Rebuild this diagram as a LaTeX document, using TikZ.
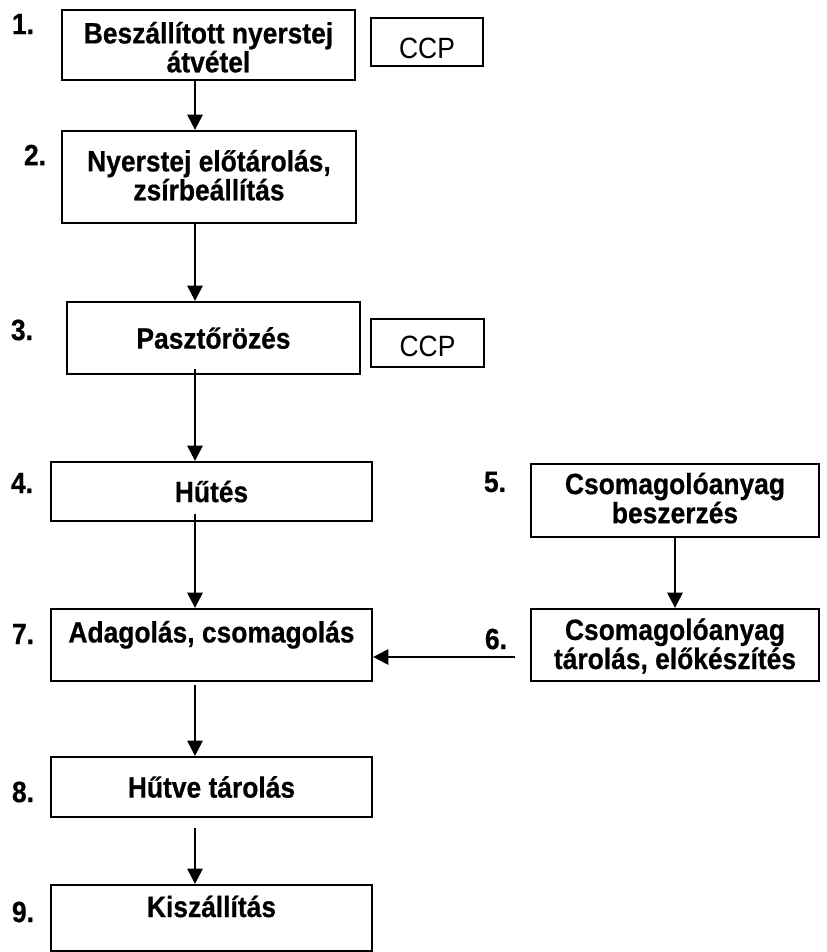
\documentclass[tikz,border=0pt]{standalone}
\usepackage{fontspec}
\setmainfont{Liberation Sans}
\newfontfamily\boxfont[FakeStretch=0.9, BoldFeatures={FakeBold=0.6}]{Liberation Sans}
\usepackage{tikz}
\usetikzlibrary{positioning,calc,arrows.meta}

\begin{document}
\begin{tikzpicture}[x=0.75pt,y=-0.75pt,
    stepbox/.style={draw, line width=1.7pt, inner sep=0pt, align=center, font=\boxfont\bfseries\fontsize{22}{19.5}\selectfont},
    ccpbox/.style={draw, line width=1.2pt, inner sep=0pt, minimum width=84pt, minimum height=36pt, font=\boxfont\fontsize{22}{19.5}\selectfont},
    num/.style={font=\boxfont\bfseries\fontsize{22}{19.5}\selectfont},
    arrow/.style={line width=1.7pt, -{Triangle[width=11.5pt,length=11.5pt]}}]
    \useasboundingbox (0,0) rectangle (827,952);

    % main flow
    \node[stepbox, minimum width=219.75pt, minimum height=52.5pt, text height=41pt, text depth=0pt] (atvetel) at (208.5,45) {Beszállított nyerstej\\átvétel};
    \node[ccpbox, text height=25pt] (ccpA) at (427,42) {CCP\hspace{13pt}};
    \node[stepbox, minimum width=220.5pt, minimum height=69pt, text height=35pt, text depth=0pt] (elotarolas) at (209,177) {Nyerstej előtárolás,\\zsírbeállítás};
    \node[stepbox, minimum width=219.75pt, minimum height=54pt] (paszt) at (213.5,338) {Pasztőrözés};
    \node[ccpbox, minimum width=84.75pt, text height=21pt] (ccpB) at (427.5,343) {CCP\hspace{13pt}};
    \node[stepbox, minimum width=240.75pt, minimum height=44.25pt] (hutes) at (211.5,491.5) {Hűtés};
    \node[stepbox, minimum width=240.75pt, minimum height=54pt, text height=16pt, text depth=19.8pt] (adagolas) at (211.5,645) {Adagolás, csomagolás};
    \node[stepbox, minimum width=240.75pt, minimum height=45pt] (hutvetar) at (211.5,787) {Hűtve tárolás};
    \node[stepbox, minimum width=240.75pt, minimum height=49.5pt, text height=16pt, text depth=17.5pt] (kiszall) at (211.5,918) {Kiszállítás};

    % packaging branch
    \node[stepbox, minimum width=216pt, minimum height=54.75pt, text height=34pt, text depth=0pt] (beszerzes) at (675,500.5) {Csomagolóanyag\\beszerzés};
    \node[stepbox, minimum width=216pt, minimum height=54pt, text height=36pt, text depth=0pt] (csomtarolas) at (675,645) {Csomagolóanyag\\tárolás, előkészítés};

    % step numbers
    \node[num] (s1) at (23,24) {1.};
    \node[num] (s2) at (35,155) {2.};
    \node[num] (s3) at (22,330) {3.};
    \node[num] (s4) at (22,483) {4.};
    \node[num] (s5) at (495,482) {5.};
    \node[num] (s6) at (496,639) {6.};
    \node[num] (s7) at (23,634) {7.};
    \node[num] (s8) at (23,792) {8.};
    \node[num] (s9) at (23,912) {9.};

    \coordinate (flow) at (195,0);
    \draw[arrow] (atvetel.south -| flow) -- (elotarolas.north -| flow);
    \draw[arrow] (elotarolas.south -| flow) -- (paszt.north -| flow);
    \draw[arrow] ($(paszt.south -| flow)+(0,-6)$) -- (hutes.north -| flow);
    \draw[arrow] ($(hutes.south -| flow)+(0,-8)$) -- (adagolas.north -| flow);
    \draw[arrow] ($(adagolas.south -| flow)+(0,3)$) -- (hutvetar.north -| flow);
    \draw[arrow] ($(hutvetar.south -| flow)+(0,10)$) -- (kiszall.north -| flow);
    \draw[arrow] (beszerzes.south) -- (csomtarolas.north);
    \coordinate (csatlak) at ($(csomtarolas.west)+(-15,12)$);
    \draw[arrow] (csatlak) -- (csatlak -| adagolas.east);
\end{tikzpicture}
\end{document}
